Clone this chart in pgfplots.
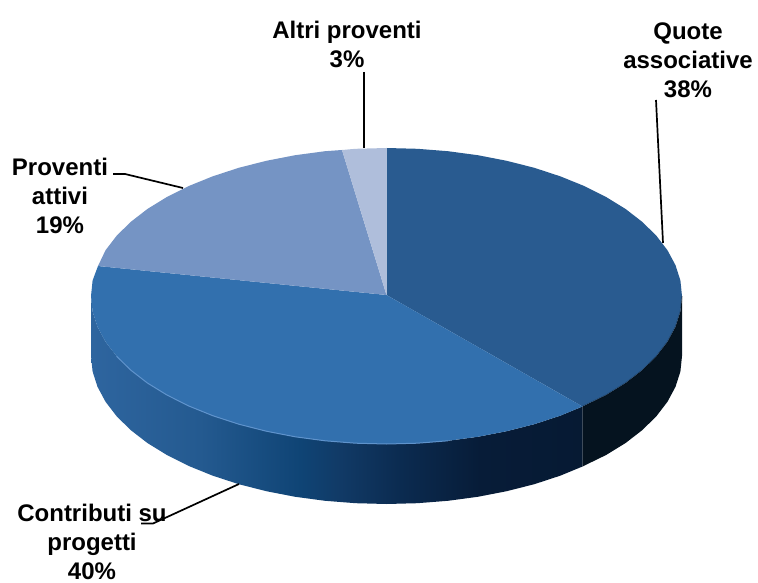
\documentclass[border=0pt]{standalone}
\usepackage{pgfplots}
\pgfplotsset{compat=1.18}
\usepackage{fontspec}
\setmainfont{Liberation Sans}

\definecolor{wa}{HTML}{2E659F}
\definecolor{wb}{HTML}{245A90}
\definecolor{wc}{HTML}{0F4475}
\definecolor{wd}{HTML}{113A66}
\definecolor{we}{HTML}{0B2B50}
\definecolor{wf}{HTML}{071C38}
\definecolor{wg}{HTML}{061A33}
\definecolor{wallright}{HTML}{05131F}
\definecolor{quote}{HTML}{295B90}
\definecolor{contributi}{HTML}{3270AE}
\definecolor{proventi}{HTML}{7594C4}
\definecolor{altri}{HTML}{AFBEDB}
\definecolor{rim}{HTML}{5F93CC}
% side wall colours, path box runs from 25bp to 75bp
\pgfdeclarehorizontalshading{wallleft}{100bp}{
  color(0bp)=(wa); color(25bp)=(wa); color(36.1bp)=(wb); color(46.3bp)=(wc);
  color(50.4bp)=(wd); color(56.5bp)=(we); color(64.6bp)=(wf); color(75bp)=(wg); color(100bp)=(wg)}

\begin{document}
\begin{tikzpicture}
\useasboundingbox (0,0) rectangle (758pt,583pt);
\begin{axis}[
  hide axis, scale only axis, clip=false,
  width=758pt, height=583pt,
  xmin=0, xmax=758, ymin=0, ymax=583, y dir=reverse,
  nodes={font=\fontsize{24}{29}\selectfont\bfseries, align=center, text=black, inner sep=0pt},
]
% side walls
\addplot[draw=none, shade, shading=wallleft] coordinates {
  (582.5,406.5)(560.2,415.7)(534.3,424.2)(506.7,431.2)(477.8,436.8)(447.9,440.8)(417.4,443.2)(386.5,444)
  (355.6,443.2)(325.1,440.8)(295.2,436.8)(266.3,431.2)(238.8,424.2)(212.8,415.7)(188.8,406)(166.9,395)
  (147.4,383)(130.6,370)(116.6,356.2)(105.5,341.7)(97.5,326.8)(92.6,311.5)(91,296)
  (91,356)(92.6,371.5)(97.5,386.8)(105.5,401.7)(116.6,416.2)(130.6,430)(147.4,443)(166.9,455)
  (188.8,466)(212.8,475.7)(238.8,484.2)(266.3,491.2)(295.2,496.8)(325.1,500.8)(355.6,503.2)(386.5,504)
  (417.4,503.2)(447.9,500.8)(477.8,496.8)(506.7,491.2)(534.3,484.2)(560.2,475.7)(582.5,466.5)
} --cycle;
\addplot[draw=none, fill=wallright] coordinates {
  (682,296)(680.4,311.5)(675.5,326.8)(667.5,341.7)(656.4,356.2)(642.4,370)(625.6,383)(606.1,395)(582.5,406.5)
  (582.5,466.5)(606.1,455)(625.6,443)(642.4,430)(656.4,416.2)(667.5,401.7)(675.5,386.8)(680.4,371.5)(682,356)
} --cycle;
% top face: Quote associative 38
\addplot[draw=none, fill=quote] coordinates {
  (386.5,295)(386.5,148)(417.4,148.8)(447.9,151.2)(477.8,155.2)(506.7,160.8)(534.3,167.8)(560.2,176.3)
  (584.2,186)(606.1,197)(625.6,209)(642.4,222)(656.4,235.8)(667.5,250.3)(675.5,265.2)(680.4,280.5)(682,296)
  (680.4,311.5)(675.5,326.8)(667.5,341.7)(656.4,356.2)(642.4,370)(625.6,383)(606.1,395)(582.5,406.5)
} --cycle;
% Contributi su progetti 40
\addplot[draw=none, fill=contributi] coordinates {
  (386.5,295)(582.5,406.5)(560.2,415.7)(534.3,424.2)(506.7,431.2)(477.8,436.8)(447.9,440.8)(417.4,443.2)(386.5,444)
  (355.6,443.2)(325.1,440.8)(295.2,436.8)(266.3,431.2)(238.8,424.2)(212.8,415.7)(188.8,406)(166.9,395)
  (147.4,383)(130.6,370)(116.6,356.2)(105.5,341.7)(97.5,326.8)(92.6,311.5)(91,296)(92.6,280.5)(98,266)
} --cycle;
% Proventi attivi 19
\addplot[draw=none, fill=proventi] coordinates {
  (386.5,295)(98,266)(105.5,250.3)(116.6,235.8)(130.6,222)(147.4,209)(166.9,197)(188.8,186)(212.8,176.3)
  (238.8,167.8)(266.3,160.8)(295.2,155.2)(325.1,151.2)(342,150)
} --cycle;
% Altri proventi 3
\addplot[draw=none, fill=altri] coordinates {
  (386.5,295)(342,150)(355.6,148.8)(386.5,148)
} --cycle;
% bevel along the front edge of the top face
\addplot[rim, line width=1pt] coordinates {
  (447.9,440.8)(417.4,443.2)(386.5,444)(355.6,443.2)(325.1,440.8)(295.2,436.8)(266.3,431.2)(238.8,424.2)
  (212.8,415.7)(188.8,406)(166.9,395)(147.4,383)(130.6,370)(116.6,356.2)
};
\addplot[black, opacity=0.25, line width=1.2pt] coordinates {
  (682,296)(680.4,311.5)(675.5,326.8)(667.5,341.7)(656.4,356.2)(642.4,370)(625.6,383)(606.1,395)(582.5,406.5)
};
% leader lines
\addplot[black, line width=1.7pt] coordinates {(364,72)(364,148.5)};
\addplot[black, line width=1.7pt] coordinates {(113,174)(125,174)(183,188)};
\addplot[black, line width=1.7pt] coordinates {(656,100)(663,243)};
\addplot[black, line width=1.7pt] coordinates {(141,523.5)(153,523.5)(239,484)};
% labels
\node at (axis cs:347,44) {Altri proventi\\3\%};
\node at (axis cs:688,60.5) {Quote\\associative\\38\%};
\node at (axis cs:60,196) {Proventi\\attivi\\19\%};
\node at (axis cs:92,541.5) {Contributi su\\progetti\\40\%};
\end{axis}
\end{tikzpicture}
\end{document}
